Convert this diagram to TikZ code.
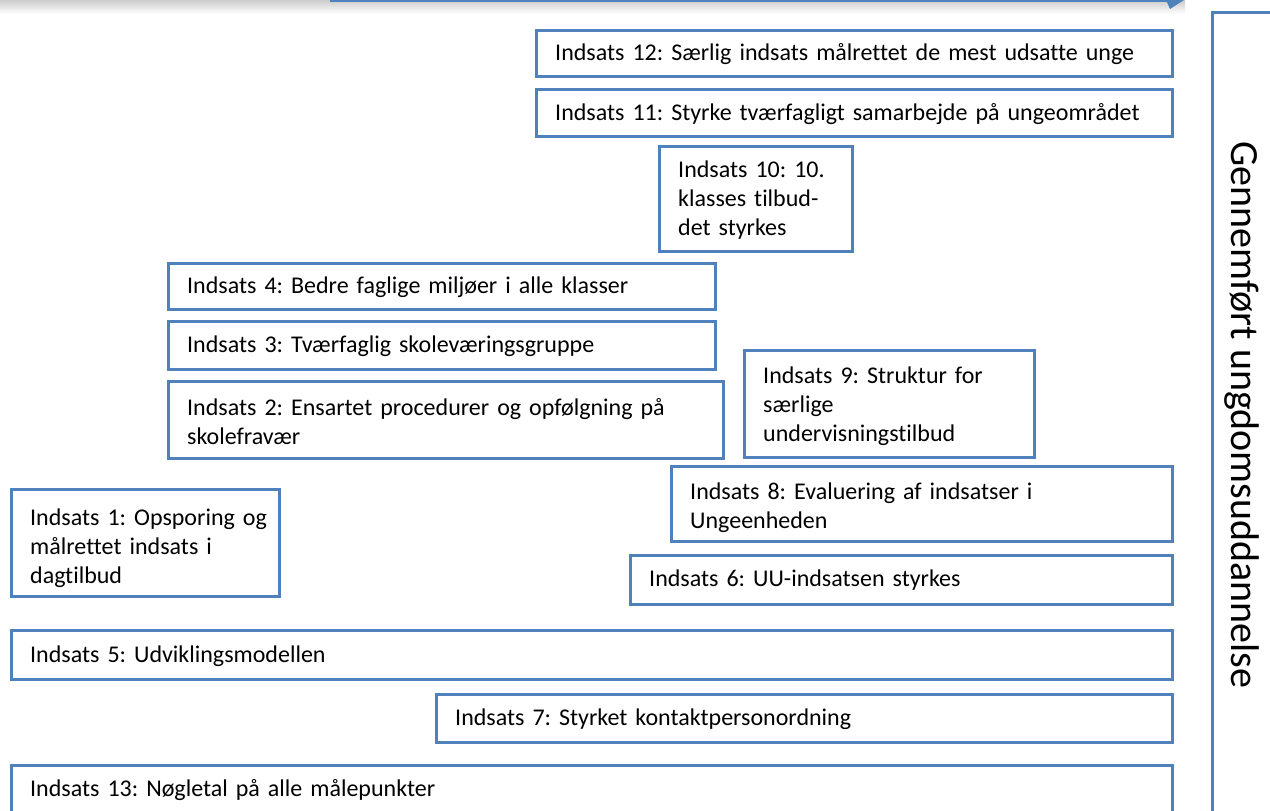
\documentclass[tikz,border=0pt]{standalone}
\usepackage{fontspec}
\setmainfont{Carlito}[Ligatures={NoCommon}]
\definecolor{boxblue}{RGB}{79,129,189}
\begin{document}
\frenchspacing
\begin{tikzpicture}[x=1pt,y=-1pt,
  bx/.style={draw=boxblue, line width=3pt, fill=white, inner sep=0pt, anchor=north west},
  tx/.style={anchor=base west, inner sep=0pt, align=left, font=\fontsize{24}{29}\selectfont\frenchspacing},
]
\newcommand\mkbox[7]{%
  \node[bx, minimum width={#4-#2}, minimum height={#5-#3}] (#1) at (#2,#3) {};
  \node[tx, text width={#4-#2}] (#1t) at (#2+20,#6) {#7};
}
\useasboundingbox (0,0) rectangle (1270,811);
\clip (0,0) rectangle (1270,811);
% top bar (cut off arrow)
\shade[top color=gray!40, bottom color=white] (0,0) rectangle (1185,14);
\draw[boxblue, line width=2pt] (330,1) -- (1172,1);
\fill[boxblue] (1166,0) -- (1184,0) -- (1170,9) -- cycle;
% right box
\node[bx, minimum width=120, minimum height=900] (goal) at (1211,11) {};
\node[inner sep=0pt, rotate=-90, font=\fontsize{40}{48}\selectfont] (goalt) at (1242,415) {Gennemført ungdomsuddannelse};
% boxes
\mkbox{b12}{535}{29}{1171}{75}{60}{Indsats 12: Særlig indsats målrettet de mest udsatte unge}
\mkbox{b11}{535}{88}{1171}{135}{120}{Indsats 11: Styrke tværfagligt samarbejde på ungeområdet}
\mkbox{b10}{658}{145}{851}{250}{177}{Indsats 10: 10.\\klasses tilbud-\\det styrkes}
\mkbox{b4}{167}{262}{714}{308}{293}{Indsats 4: Bedre faglige miljøer i alle klasser}
\mkbox{b3}{167}{320}{714}{368}{352}{Indsats 3: Tværfaglig skoleværingsgruppe}
\mkbox{b2}{167}{380}{722}{457}{415}{Indsats 2: Ensartet procedurer og opfølgning på\\skolefravær}
\mkbox{b9}{743}{349}{1033}{456}{383}{Indsats 9: Struktur for\\særlige\\undervisningstilbud}
\mkbox{b8}{670}{465}{1171}{540}{499}{Indsats 8: Evaluering af indsatser i\\Ungeenheden}
\mkbox{b1}{10}{488}{278}{595}{525}{Indsats 1: Opsporing og\\målrettet indsats i\\dagtilbud}
\mkbox{b6}{629}{554}{1171}{603}{586}{Indsats 6: UU-indsatsen styrkes}
\mkbox{b5}{10}{629}{1171}{678}{662}{Indsats 5: Udviklingsmodellen}
\mkbox{b7}{435}{693}{1171}{741}{725}{Indsats 7: Styrket kontaktpersonordning}
\mkbox{b13}{10}{764}{1171}{840}{796}{Indsats 13: Nøgletal på alle målepunkter}
\end{tikzpicture}
\end{document}
